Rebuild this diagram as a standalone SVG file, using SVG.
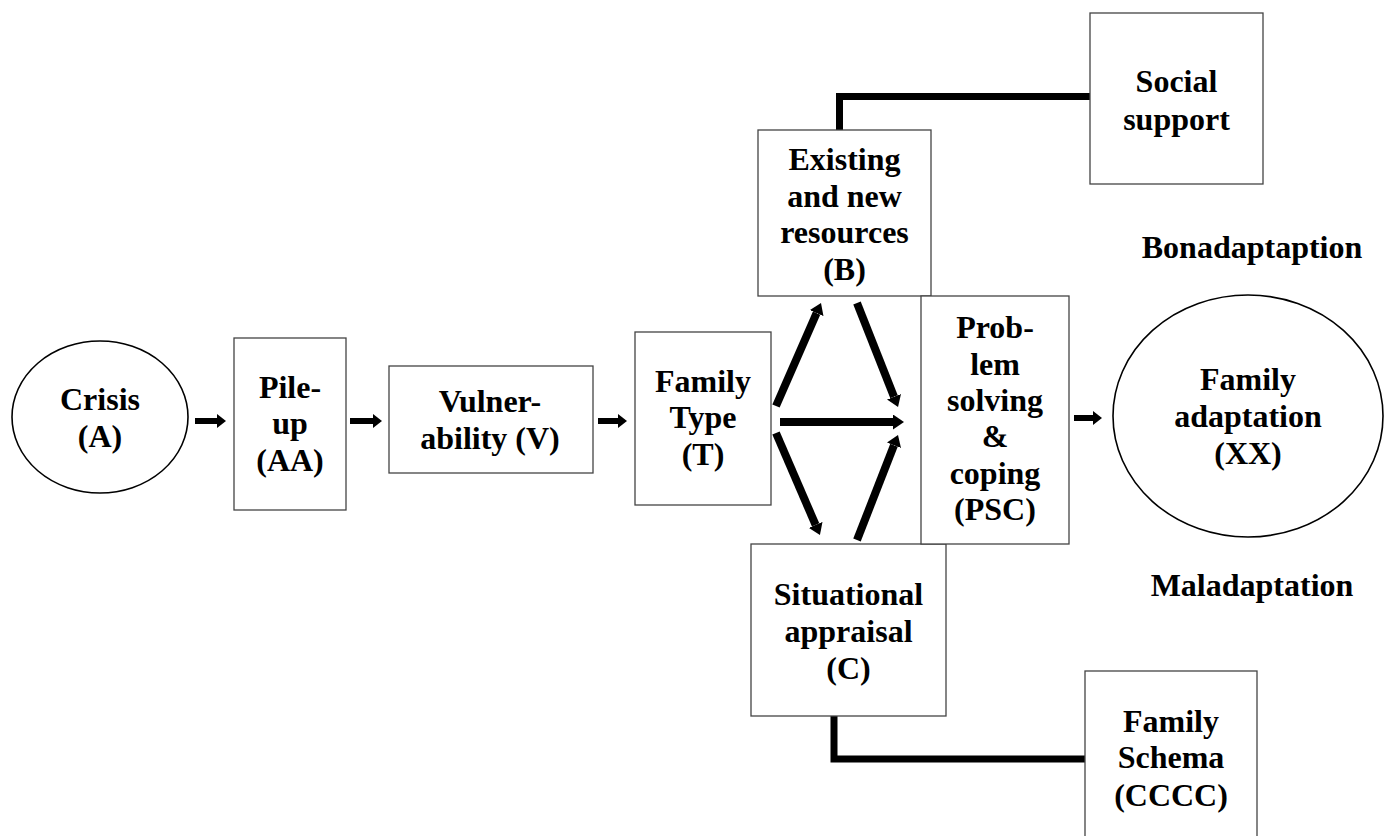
<svg xmlns="http://www.w3.org/2000/svg" width="1389" height="836" viewBox="0 0 1389 836">
<style>
.box{fill:#fff;stroke:#444;stroke-width:1.3}
.ell{fill:#fff;stroke:#000;stroke-width:1.6}
.t{font-family:"Liberation Serif","Times New Roman",serif;font-weight:bold;font-size:32px;fill:#000;text-anchor:middle}
.a{stroke:#000;fill:none}
.small{stroke-width:6;marker-end:url(#hs)}
.big{stroke-width:8;marker-end:url(#hb)}
.link{stroke:#000;stroke-width:7;fill:none;stroke-linejoin:miter}
</style>
<defs>
<marker id="hs" viewBox="0 0 9 14" refX="0" refY="7" markerWidth="9" markerHeight="14" markerUnits="userSpaceOnUse" orient="auto"><path d="M0,0 L9,7 L0,14 z" fill="#000"/></marker>
<marker id="hb" viewBox="0 0 11 15" refX="0" refY="7.5" markerWidth="11" markerHeight="15" markerUnits="userSpaceOnUse" orient="auto"><path d="M0,0 L11,7.5 L0,15 z" fill="#000"/></marker>
</defs>
<rect width="1389" height="836" fill="#fff"/>
<g id="connectors">
<polyline class="link" points="839.5,130 839.5,96.5 1090,96.5"/>
<polyline class="link" points="834,716 834,759 1085,759"/>
<line class="a small" x1="195" y1="421" x2="217" y2="421"/>
<line class="a small" x1="350" y1="421" x2="373" y2="421"/>
<line class="a small" x1="598" y1="421" x2="618" y2="421"/>
<line class="a small" x1="1074" y1="418" x2="1093" y2="418"/>
<line class="a big" x1="776" y1="406" x2="816.6" y2="313.1"/>
<line class="a big" x1="857" y1="303" x2="894" y2="396.8"/>
<line class="a big" x1="780" y1="422" x2="893" y2="422"/>
<line class="a big" x1="776" y1="433" x2="815.6" y2="524.9"/>
<line class="a big" x1="857" y1="540" x2="894" y2="445.3"/>
</g>
<g id="crisis">
<ellipse class="ell" cx="100" cy="417" rx="88" ry="76"/>
<text class="t" x="100" y="410">Crisis</text>
<text class="t" x="100" y="447">(A)</text>
</g>
<g id="pileup">
<rect class="box" x="234" y="338" width="112" height="172"/>
<text class="t" x="290" y="398">Pile-</text>
<text class="t" x="290" y="434">up</text>
<text class="t" x="290" y="471">(AA)</text>
</g>
<g id="vulnerability">
<rect class="box" x="389" y="366" width="204" height="107"/>
<text class="t" x="490" y="412">Vulner-</text>
<text class="t" x="490" y="449">ability (V)</text>
</g>
<g id="familytype">
<rect class="box" x="635" y="332" width="136" height="173"/>
<text class="t" x="703" y="392">Family</text>
<text class="t" x="703" y="428">Type</text>
<text class="t" x="703" y="465">(T)</text>
</g>
<g id="resources">
<rect class="box" x="758" y="130" width="173" height="166"/>
<text class="t" x="844.5" y="170">Existing</text>
<text class="t" x="844.5" y="207">and new</text>
<text class="t" x="844.5" y="243">resources</text>
<text class="t" x="844.5" y="280">(B)</text>
</g>
<g id="situational">
<rect class="box" x="751" y="544" width="195" height="172"/>
<text class="t" x="848.5" y="605">Situational</text>
<text class="t" x="848.5" y="642">appraisal</text>
<text class="t" x="848.5" y="679">(C)</text>
</g>
<g id="psc">
<rect class="box" x="921" y="296" width="148" height="248"/>
<text class="t" x="995" y="338">Prob-</text>
<text class="t" x="995" y="375">lem</text>
<text class="t" x="995" y="411">solving</text>
<text class="t" x="995" y="447">&amp;</text>
<text class="t" x="995" y="484">coping</text>
<text class="t" x="995" y="520">(PSC)</text>
</g>
<g id="socialsupport">
<rect class="box" x="1090" y="13" width="173" height="171"/>
<text class="t" x="1176.5" y="92">Social</text>
<text class="t" x="1176.5" y="130">support</text>
</g>
<g id="familyschema">
<rect class="box" x="1085" y="671" width="172" height="175"/>
<text class="t" x="1171" y="732">Family</text>
<text class="t" x="1171" y="768">Schema</text>
<text class="t" x="1171" y="806">(CCCC)</text>
</g>
<g id="adaptation">
<ellipse class="ell" cx="1248" cy="416" rx="135" ry="121"/>
<text class="t" x="1248" y="390">Family</text>
<text class="t" x="1248" y="427">adaptation</text>
<text class="t" x="1248" y="464">(XX)</text>
</g>
<g id="labels">
<text class="t" x="1252" y="258">Bonadaptaption</text>
<text class="t" x="1252" y="596">Maladaptation</text>
</g>
</svg>
